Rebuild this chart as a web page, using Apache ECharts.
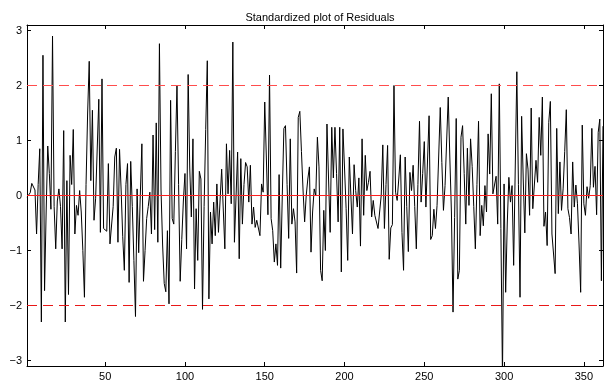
<!DOCTYPE html>
<html>
<head>
<meta charset="utf-8">
<title>Standardized plot of Residuals</title>
<script src="https://cdn.jsdelivr.net/npm/echarts@6/dist/echarts.min.js"></script>
<style>
  html, body { margin: 0; padding: 0; background: #fff; }
  #chart { width: 605px; height: 383px; }
</style>
</head>
<body>
<div id="chart"></div>
<script>
const residualsPart1 = [
  -0.03, -0.05, 0.05, 0.22, 0.25, 0.1, -0.7, 0.2, 0.85, -2.3,
  2.55, -1.73, -0.3, 0.9, 0.4, -0.25, 2.9, -0.2, -0.97, -0.1,
  0.12, -0.2, -0.97, 1.18, -2.3, 0.27, -1.8, 0.73, 0.2, 1.2,
  -0.7, -0.18, -0.36, 0.09, -0.3, -1.0, -1.85, 0.2, 1.5, 2.44,
  0.27, 1.55, -0.45, -0.06, -0.06, 1.75, -0.67, 2.12, -0.6, -0.62,
  -0.65, 0.58, -0.88, -0.9, -0.2, 0.7, 0.86, -0.85, 0.84, 0.1,
  -0.75, -1.36, 0.2, 0.58, -1.58, 0.62, -0.2, -1.18, -2.2, 0.12,
  -1.04, 0.0
]
const residualsPart2 = [
  0.94, -1.56, -1.0, -0.42, -0.2, 0.06, -0.7, 1.1, -0.62, 1.32,
  -0.85, 2.76, 0.1, -0.9, -1.6, -1.75, -0.64, -1.97, 1.73, -0.42,
  -0.52, 0.8, 2.0, 0.2, -1.56, -0.8, -0.1, 0.4, -0.97, 2.2,
  0.5, -0.39, 1.03, -1.7, -0.24, -1.18, 0.44, 0.3, -2.07, -0.2,
  1.2, 2.45, -1.88, -0.3, -0.88, -0.12, -0.73, 0.21, -0.67, -0.7,
  0.48, 0.48, -0.97, 0.94, 0.03, 0.82, -0.15, 2.79, -0.85, -0.82,
  0.79, -1.15, 0.67, -0.52, 0.2, 0.6, 0.52, -0.12, 0.55, -0.52,
  -0.21, -0.58
]
const residualsPart3 = [
  -0.45, -0.42, -0.73, 0.21, 0.06, 1.7, 0.7, -0.35, 2.19, -0.42,
  -0.64, -1.21, -0.88, -1.27, 0.38, -1.32, 0.0, 1.22, 1.27, 0.2,
  -0.78, 1.03, -0.52, -0.24, -0.48, -1.41, 1.42, 1.53, 0.8, 0.1,
  -0.48, 0.0, 0.3, 0.52, -1.03, -0.3, 0.12, 0.0, 1.06, 0.52,
  -1.36, -1.55, -0.27, -1.0, 1.3, 0.3, -0.67, 1.24, 0.32, 1.24,
  0.4, -0.48, 1.24, -1.39, 1.21, 0.5, -0.24, -1.18, 0.7, 0.0,
  -0.7, 0.56, 0.09, -0.21, 0.32, -0.92, 1.03, -0.36, 0.73, 0.09,
  0.24
]
const residualsPart4 = [
  0.44, -0.39, -0.09, -0.36, -0.36, -0.6, -0.3, 0.0, 0.92, -0.6,
  0.2, 0.91, -1.16, -0.59, -0.53, 2.0, 0.06, -0.09, 0.3, 0.74,
  -0.67, -1.36, 0.7, -0.2, -1.02, 0.42, 0.09, 0.55, -0.2, -0.97,
  0.2, 1.35, -0.12, 0.4, 0.98, -0.21, -0.24, 1.45, -0.8, -0.73,
  -0.25, -0.6, -0.18, 0.7, 1.6, 0.6, -0.27, 0.18, 0.19, 1.79,
  0.7, -0.3, -2.12, -0.4, 1.4, -1.52, -1.36, 1.06, 1.27, 0.4,
  -0.52, 0.86, -0.18, 1.03, 0.53, -0.2, -0.97, 0.2, 1.35, -0.73,
  -0.18, -0.55
]
const residualsPart5 = [
  0.18, -0.3, 1.12, 0.39, 1.85, 0.03, 0.06, 0.35, -0.52, 2.03,
  -0.6, -3.3, 0.21, -1.76, -0.5, 0.33, -0.12, 0.18, -1.27, 0.5,
  2.25, 0.2, -1.85, 1.44, 0.3, -0.68, 0.76, 0.48, -0.36, 1.59,
  -0.24, -0.24, 0.64, 0.24, 1.42, 0.73, 1.79, -0.56, -0.3, -0.91,
  1.33, 1.71, -0.7, -0.73, -1.42, 1.22, -0.33, 0.61, -0.27, 0.12,
  0.8, 1.56, -0.24, -0.4, -0.7, 0.61, -0.21, 0.19, -0.15, -0.9,
  -1.76, 1.28, -0.15, -0.36, 0.16, -0.05, 0.18, 1.22, 0.15, 0.53,
  -0.35, 1.15, 1.39, -1.55, 1.26
]
const residuals = residualsPart1.concat(residualsPart2, residualsPart3, residualsPart4, residualsPart5)

const xTicks = [50, 100, 150, 200, 250, 300, 350]
const yTicks = [-3, -2, -1, 0, 1, 2, 3]
const upperLimit = 2
const lowerLimit = -2
const centerLine = 0

const FONT = 'Liberation Sans, Arial, Helvetica, sans-serif'

let myChart = echarts.init(document.getElementById('chart'), null, { renderer: 'canvas' })

let xRange = { min: 1, max: residuals.length }
let yRange = { min: -3.1, max: 3.1 }

// points: observation number vs residual
let seriesData = residuals.map((v, i) => [i + 1, v])

function minusLabel (v) {
  return v < 0 ? '\u2212' + Math.abs(v) : String(v)
}

// horizontal reference line across the whole x range
function refLine (name, level, color, dash) {
  return {
    name: name,
    type: 'line',
    data: [[xRange.min, level], [xRange.max, level]],
    showSymbol: false,
    symbol: 'none',
    silent: true,
    z: 3,
    itemStyle: { color: color },
    lineStyle: { color: color, width: 1, type: dash }
  }
}

myChart.setOption({
  animation: false,
  backgroundColor: '#ffffff',
  title: {
    text: 'Standardized plot of Residuals',
    left: 315,
    top: 7,
    textAlign: 'center',
    textStyle: { fontFamily: FONT, fontSize: 11, fontWeight: 'normal', color: '#000' }
  },
  grid: { left: 27, right: 2, top: 25, bottom: 17 },
  xAxis: [
    {
      type: 'value',
      min: xRange.min,
      max: xRange.max,
      axisLine: { show: true, onZero: false, lineStyle: { color: '#000', width: 1 } },
      axisTick: { show: true, inside: true, length: 4, customValues: xTicks, lineStyle: { color: '#000' } },
      axisLabel: { customValues: xTicks, fontFamily: FONT, fontSize: 11, color: '#000', margin: 5 },
      splitLine: { show: false }
    },
    {
      type: 'value',
      position: 'top',
      min: xRange.min,
      max: xRange.max,
      axisLine: { show: true, onZero: false, lineStyle: { color: '#000', width: 1 } },
      axisTick: { show: true, inside: true, length: 4, customValues: xTicks, lineStyle: { color: '#000' } },
      axisLabel: { show: false },
      splitLine: { show: false }
    }
  ],
  yAxis: [
    {
      type: 'value',
      min: yRange.min,
      max: yRange.max,
      axisLine: { show: true, onZero: false, lineStyle: { color: '#000', width: 1 } },
      axisTick: { show: true, inside: true, length: 4, customValues: yTicks, lineStyle: { color: '#000' } },
      axisLabel: { customValues: yTicks, formatter: minusLabel, fontFamily: FONT, fontSize: 11, color: '#000', margin: 5 },
      splitLine: { show: false }
    },
    {
      type: 'value',
      position: 'right',
      min: yRange.min,
      max: yRange.max,
      axisLine: { show: true, onZero: false, lineStyle: { color: '#000', width: 1 } },
      axisTick: { show: true, inside: true, length: 4, customValues: yTicks, lineStyle: { color: '#000' } },
      axisLabel: { show: false },
      splitLine: { show: false }
    }
  ],
  series: [
    {
      name: 'residuals',
      type: 'line',
      data: seriesData,
      showSymbol: false,
      symbol: 'none',
      clip: true,
      z: 2,
      itemStyle: { color: '#000' },
      lineStyle: { color: '#000', width: 1 }
    },
    refLine('upper', upperLimit, '#ff4d4d', [10, 6]),
    refLine('zero', centerLine, '#ff2020', 'solid'),
    refLine('lower', lowerLimit, '#e81818', [10, 6])
  ]
})
</script>
</body>
</html>
